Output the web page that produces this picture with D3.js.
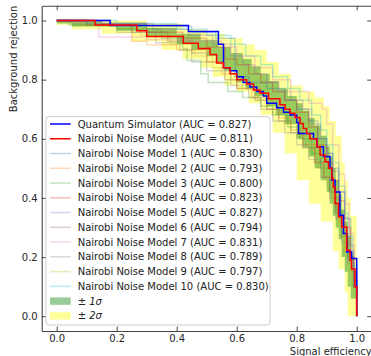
<!DOCTYPE html>
<html><head><meta charset="utf-8">
<script src="https://cdn.jsdelivr.net/npm/d3@7"></script>
<style>
html,body{margin:0;padding:0;background:#fff;}
svg{display:block;font-family:"DejaVu Sans",sans-serif;}
</style></head>
<body><svg id="c" width="371" height="356"></svg>
<script>
// ---------- data ----------
const xTicks = [0.0, 0.2, 0.4, 0.6, 0.8, 1.0];
const yTicks = [0.0, 0.2, 0.4, 0.6, 0.8, 1.0];
const xLabel = "Signal efficiency";
const yLabel = "Background rejection";

const seriesNames = ["Quantum Simulator", "Nairobi Noise Model",
  "Nairobi Noise Model 1","Nairobi Noise Model 2","Nairobi Noise Model 3","Nairobi Noise Model 4",
  "Nairobi Noise Model 5","Nairobi Noise Model 6","Nairobi Noise Model 7","Nairobi Noise Model 8",
  "Nairobi Noise Model 9","Nairobi Noise Model 10"];
const aucValues = [0.827, 0.811, 0.830, 0.793, 0.800, 0.823, 0.827, 0.794, 0.831, 0.789, 0.797, 0.830];

// step curves: [signal efficiency, background rejection] (value drops at given x)
const quantumSim = [[0,1.0],[0.178,0.983],[0.439,0.963],[0.539,0.92],[0.556,0.84],[0.578,0.83],[0.6,0.81],[0.622,0.79],[0.644,0.775],[0.667,0.76],[0.689,0.745],[0.7,0.72],[0.733,0.705],[0.756,0.69],[0.778,0.68],[0.8,0.655],[0.806,0.618],[0.856,0.60],[0.867,0.573],[0.889,0.54],[0.911,0.50],[0.917,0.46],[0.928,0.42],[0.944,0.341],[0.956,0.28],[0.967,0.217],[0.983,0.195],[1.0,0.0]];
const nairobi = [[0,1.0],[0.128,0.985],[0.267,0.965],[0.3,0.946],[0.422,0.923],[0.472,0.905],[0.511,0.885],[0.533,0.856],[0.556,0.84],[0.578,0.82],[0.6,0.80],[0.633,0.785],[0.656,0.765],[0.678,0.754],[0.706,0.735],[0.744,0.715],[0.761,0.70],[0.778,0.686],[0.794,0.672],[0.811,0.652],[0.822,0.635],[0.833,0.618],[0.844,0.60],[0.867,0.573],[0.878,0.545],[0.894,0.522],[0.906,0.50],[0.917,0.466],[0.922,0.437],[0.928,0.381],[0.939,0.336],[0.95,0.302],[0.967,0.223],[0.978,0.189],[0.983,0.16],[0.994,0.10],[1.0,0.0]];
const noise1 = [[0,1],[0.1,0.99],[0.3,0.98],[0.45,0.96],[0.53,0.94],[0.594,0.81],[0.64,0.79],[0.7,0.77],[0.76,0.73],[0.8,0.7],[0.84,0.66],[0.87,0.6],[0.9,0.55],[0.92,0.5],[0.94,0.42],[0.96,0.33],[0.98,0.22],[0.99,0.12],[1,0]];
const noise2 = [[0,1],[0.08,0.985],[0.25,0.93],[0.3,0.918],[0.4,0.9],[0.5,0.86],[0.55,0.82],[0.6,0.77],[0.65,0.74],[0.7,0.7],[0.74,0.67],[0.78,0.63],[0.82,0.58],[0.86,0.52],[0.89,0.47],[0.92,0.4],[0.94,0.32],[0.96,0.22],[0.98,0.15],[1,0]];
const noise3 = [[0,1],[0.04,0.985],[0.2,0.97],[0.35,0.94],[0.42,0.905],[0.435,0.865],[0.48,0.82],[0.505,0.79],[0.57,0.76],[0.62,0.74],[0.68,0.71],[0.72,0.68],[0.77,0.64],[0.81,0.6],[0.85,0.55],[0.88,0.5],[0.91,0.43],[0.93,0.36],[0.95,0.28],[0.97,0.2],[0.99,0.1],[1,0]];
const noise4 = [[0,1],[0.15,0.99],[0.3,0.96],[0.42,0.94],[0.5,0.91],[0.56,0.87],[0.6,0.85],[0.64,0.82],[0.68,0.79],[0.72,0.76],[0.76,0.73],[0.8,0.69],[0.84,0.64],[0.87,0.58],[0.9,0.52],[0.92,0.46],[0.94,0.39],[0.96,0.3],[0.98,0.2],[0.99,0.1],[1,0]];
const noise5 = [[0,1],[0.18,0.99],[0.32,0.97],[0.44,0.95],[0.52,0.92],[0.58,0.88],[0.62,0.85],[0.66,0.82],[0.7,0.79],[0.74,0.76],[0.78,0.73],[0.82,0.7],[0.85,0.65],[0.88,0.6],[0.9,0.55],[0.92,0.49],[0.94,0.42],[0.96,0.33],[0.975,0.24],[0.99,0.12],[1,0]];
const noise6 = [[0,1],[0.1,0.985],[0.25,0.96],[0.37,0.93],[0.45,0.89],[0.5,0.86],[0.56,0.8],[0.6,0.77],[0.66,0.73],[0.7,0.7],[0.74,0.66],[0.78,0.62],[0.82,0.57],[0.86,0.52],[0.89,0.47],[0.91,0.42],[0.93,0.35],[0.95,0.27],[0.97,0.19],[0.99,0.1],[1,0]];
const noise7 = [[0,1],[0.14,0.944],[0.3,0.935],[0.45,0.93],[0.55,0.91],[0.6,0.88],[0.66,0.84],[0.72,0.8],[0.78,0.76],[0.84,0.72],[0.885,0.7],[0.9,0.65],[0.92,0.58],[0.94,0.48],[0.96,0.38],[0.975,0.28],[0.99,0.16],[1,0]];
const noise8 = [[0,1],[0.05,0.99],[0.2,0.96],[0.33,0.925],[0.41,0.9],[0.45,0.86],[0.5,0.83],[0.58,0.78],[0.64,0.74],[0.68,0.7],[0.72,0.66],[0.76,0.62],[0.8,0.58],[0.84,0.53],[0.88,0.47],[0.91,0.4],[0.93,0.33],[0.95,0.25],[0.97,0.18],[0.99,0.1],[1,0]];
const noise9 = [[0,1],[0.12,0.985],[0.28,0.95],[0.38,0.92],[0.46,0.88],[0.52,0.84],[0.58,0.8],[0.62,0.77],[0.67,0.73],[0.72,0.69],[0.76,0.65],[0.8,0.61],[0.84,0.56],[0.87,0.5],[0.9,0.44],[0.92,0.38],[0.94,0.3],[0.96,0.22],[0.98,0.14],[1,0]];
const noise10 = [[0,1],[0.2,0.99],[0.4,0.97],[0.5,0.95],[0.58,0.92],[0.63,0.88],[0.68,0.85],[0.72,0.81],[0.77,0.77],[0.81,0.73],[0.85,0.68],[0.88,0.63],[0.9,0.58],[0.92,0.52],[0.94,0.44],[0.96,0.35],[0.97,0.27],[0.985,0.17],[1,0]];

// uncertainty bands (upper / lower step boundaries)
const band1Upper = [[0,1.0],[0.15,0.99],[0.3,0.975],[0.4,0.955],[0.48,0.935],[0.54,0.91],[0.58,0.89],[0.62,0.87],[0.65,0.845],[0.68,0.82],[0.71,0.795],[0.74,0.77],[0.77,0.745],[0.8,0.72],[0.82,0.695],[0.84,0.67],[0.86,0.645],[0.88,0.61],[0.9,0.575],[0.91,0.54],[0.92,0.5],[0.93,0.46],[0.94,0.41],[0.95,0.36],[0.96,0.32],[0.97,0.27],[0.98,0.21],[0.99,0.15],[1.0,0.06]];
const band1Lower = [[0,0.99],[0.05,0.98],[0.2,0.965],[0.3,0.945],[0.4,0.92],[0.45,0.9],[0.5,0.88],[0.53,0.86],[0.56,0.83],[0.6,0.79],[0.63,0.77],[0.66,0.745],[0.7,0.71],[0.73,0.68],[0.76,0.65],[0.8,0.6],[0.82,0.57],[0.84,0.54],[0.86,0.5],[0.88,0.46],[0.9,0.42],[0.91,0.38],[0.92,0.34],[0.93,0.3],[0.94,0.26],[0.95,0.2],[0.96,0.15],[0.97,0.1],[0.98,0.06]];
const band2Upper = [[0,1.0],[0.3,0.99],[0.42,0.97],[0.5,0.955],[0.56,0.94],[0.62,0.92],[0.66,0.9],[0.7,0.86],[0.74,0.82],[0.78,0.78],[0.82,0.76],[0.86,0.74],[0.89,0.71],[0.91,0.66],[0.93,0.61],[0.95,0.52],[0.96,0.46],[0.97,0.40],[0.98,0.34],[1.0,0.0]];
const band2Lower = [[0,0.985],[0.05,0.97],[0.15,0.955],[0.25,0.93],[0.35,0.90],[0.42,0.87],[0.48,0.84],[0.52,0.81],[0.56,0.78],[0.6,0.76],[0.64,0.72],[0.68,0.68],[0.72,0.62],[0.76,0.55],[0.8,0.46],[0.84,0.38],[0.88,0.32],[0.92,0.22],[0.94,0.16],[0.96,0.08],[0.97,0.0]];

const curves = [quantumSim, nairobi, noise1, noise2, noise3, noise4, noise5, noise6, noise7, noise8, noise9, noise10];
const bandLabels = ["1", "2"];

// ---------- styles ----------
const lineColors = ["#0000ff","#ff0000","#1f77b4","#ff7f0e","#2ca02c","#d62728","#9467bd","#8c564b","#e377c2","#7f7f7f","#bcbd22","#17becf"];
const lineAlpha = [1,1,0.3,0.3,0.3,0.3,0.3,0.3,0.3,0.3,0.3,0.3];

const svg = d3.select("#c");
const W = 371, H = 356;
const L = 41.7, R = 371.7, T = 5.7, B = 331;
const x = d3.scaleLinear().domain([-0.05, 1.05]).range([L, R]);
const y = d3.scaleLinear().domain([-0.05, 1.05]).range([B, T]);

svg.append("rect").attr("width", W).attr("height", H).attr("fill", "#fff");

svg.append("defs").append("clipPath").attr("id","clip")
  .append("rect").attr("x", L).attr("y", T).attr("width", R-L).attr("height", B-T);
const plot = svg.append("g").attr("clip-path","url(#clip)");

function stepPts(arr){
  const out = [];
  arr.forEach((p,i)=>{ if(i>0) out.push([p[0], arr[i-1][1]]); out.push(p); });
  return out;
}
const poly = d3.line().x(d=>x(d[0])).y(d=>y(d[1]));
function bandPath(up, lo){
  const pts = stepPts(up).concat(stepPts(lo).reverse());
  return poly(pts) + "Z";
}
plot.append("path").attr("d", bandPath(band2Upper, band2Lower))
  .attr("fill", "yellow").attr("fill-opacity", 0.4);
plot.append("path").attr("d", bandPath(band1Upper, band1Lower))
  .attr("fill", "green").attr("fill-opacity", 0.4);

const stepLine = d3.line().x(d=>x(d[0])).y(d=>y(d[1])).curve(d3.curveStepAfter);
const order = [2,3,4,5,6,7,8,9,10,11,0,1];
order.forEach(i=>{
  plot.append("path").attr("d", stepLine(curves[i]))
    .attr("fill","none").attr("stroke", lineColors[i]).attr("stroke-opacity", lineAlpha[i])
    .attr("stroke-width", 1.5);
});

// ---------- axes ----------
const fmt = d3.format(".1f");
const axColor = "#444";
function styleAxis(g){
  g.select(".domain").attr("stroke", axColor).attr("stroke-width", 1.1);
  g.selectAll(".tick line").attr("stroke", axColor).attr("stroke-width", 1);
  g.selectAll(".tick text").attr("fill", "#262626").attr("font-size", "10px")
    .attr("font-family", "DejaVu Sans");
}
svg.append("g").attr("transform", `translate(0,${B})`)
  .call(d3.axisBottom(x).tickValues(xTicks).tickFormat(fmt).tickSizeInner(-4.5).tickSizeOuter(0).tickPadding(4))
  .call(styleAxis);
svg.append("g").attr("transform", `translate(0,${T})`)
  .call(d3.axisTop(x).tickValues(xTicks).tickFormat("").tickSizeInner(-4.5).tickSizeOuter(0))
  .call(styleAxis);
svg.append("g").attr("transform", `translate(${L},0)`)
  .call(d3.axisLeft(y).tickValues(yTicks).tickFormat(fmt).tickSizeInner(-4.5).tickSizeOuter(0).tickPadding(4))
  .call(styleAxis);
svg.append("g").attr("transform", `translate(${R},0)`)
  .call(d3.axisRight(y).tickValues(yTicks).tickFormat("").tickSizeInner(-4.5).tickSizeOuter(0))
  .call(styleAxis);

svg.append("text").attr("x", R).attr("y", 354.5).attr("text-anchor","end")
  .attr("font-size","10px").attr("fill","#262626").text(xLabel);
svg.append("text").attr("transform", `translate(16.5,${T}) rotate(-90)`).attr("text-anchor","end")
  .attr("font-size","10px").attr("fill","#262626").text(yLabel);

// ---------- legend ----------
const lg = svg.append("g");
const lgX = 46, lgY = 116.7, lgW = 224, lgH = 208.3;
lg.append("rect").attr("x", lgX).attr("y", lgY).attr("width", lgW).attr("height", lgH)
  .attr("rx", 3).attr("fill", "#fff").attr("fill-opacity", 0.8)
  .attr("stroke", "#cccccc").attr("stroke-width", 1);
const row0 = 124, dRow = 14.76;
seriesNames.forEach((name, i)=>{
  const cy = row0 + i*dRow;
  lg.append("line").attr("x1", 50).attr("x2", 70.7).attr("y1", cy).attr("y2", cy)
    .attr("stroke", lineColors[i]).attr("stroke-opacity", lineAlpha[i]).attr("stroke-width", 1.5);
  lg.append("text").attr("x", 77.7).attr("y", cy + 3.6).attr("font-size", "10px").attr("fill", "#222")
    .text(`${name} (AUC = ${d3.format(".3f")(aucValues[i])})`);
});
const bandFill = ["green", "yellow"];
bandLabels.forEach((b, j)=>{
  const cy = row0 + (seriesNames.length + j)*dRow;
  lg.append("rect").attr("x", 50).attr("y", cy-3.7).attr("width", 20.7).attr("height", 7.4)
    .attr("fill", bandFill[j]).attr("fill-opacity", 0.4);
  const t = lg.append("text").attr("x", 77.7).attr("y", cy + 3.6).attr("font-size", "10px").attr("fill", "#222");
  t.append("tspan").text("\u00b1 ");
  t.append("tspan").attr("font-style", "italic").text(b + "\u03c3");
});
</script></body></html>
